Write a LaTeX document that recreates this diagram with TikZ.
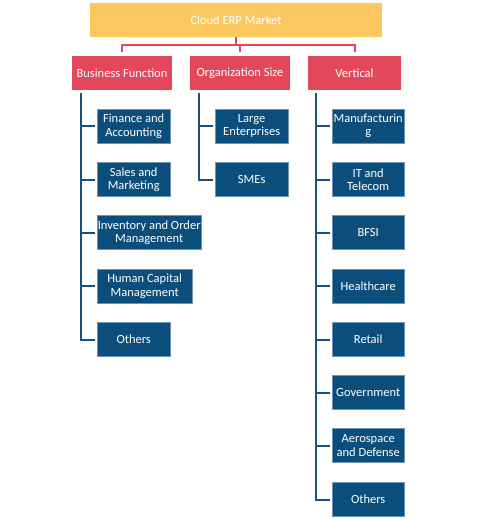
\documentclass[tikz,border=0pt]{standalone}
\usepackage{fontspec}
\setmainfont{Carlito}
\definecolor{topy}{HTML}{FCC75E}
\definecolor{catred}{HTML}{E2475A}
\definecolor{boxblue}{HTML}{0C4E7B}
\definecolor{lineblue}{HTML}{1B4F7F}
\begin{document}
\begin{tikzpicture}[x=1pt,y=-1pt,
  every node/.style={font=\fontsize{12.5}{13.5}\selectfont,text=white,inner sep=0pt,align=center},
  rootbox/.style={fill=topy,minimum width=292pt,minimum height=34pt},
  catbox/.style={fill=catred,minimum height=34pt},
  leaf/.style={fill=boxblue,draw=boxblue!60!white,line width=0.4pt,minimum height=34pt,anchor=west},
  redline/.style={draw=catred,line width=2pt},
  blueline/.style={draw=lineblue,line width=2pt}]
\useasboundingbox[fill=white] (0,0) rectangle (484,519);
\node[rootbox] (root) at (236,20) {Cloud ERP Market};
\node[catbox,minimum width=100pt] (bf) at (122,73) {Business Function};
\node[catbox,minimum width=100pt] (os) at (240,73) {Organization Size};
\node[catbox,minimum width=93pt] (vt) at (354.5,73) {Vertical};
% red connectors
\coordinate (bar) at (236,45);
\draw[redline] (root.south) -- (bar);
\draw[redline] ([yshift=3.5pt]bf.north) |- (bar) -| ([yshift=3.5pt]vt.north);
\draw[redline] ([yshift=3.5pt]os.north) -- (os.north |- bar);
% business function leaves
\node[leaf,minimum width=73pt] (bf1) at (97,126) {Finance and\\Accounting};
\node[leaf,minimum width=73pt] (bf2) at (97,179.5) {Sales and\\Marketing};
\node[leaf,minimum width=104pt] (bf3) at (97,232.5) {Inventory and Order\\Management};
\node[leaf,minimum width=95pt] (bf4) at (97,286) {Human Capital\\Management};
\node[leaf,minimum width=73pt] (bf5) at (97,339.5) {Others};
\coordinate (bft) at (81,93);
\draw[blueline] (bft) |- ([xshift=-2pt]bf5.west);
\foreach \n in {bf1,bf2,bf3,bf4} \draw[blueline] ([xshift=-2pt]\n.west) -- (\n.west -| bft);
% organization size leaves
\node[leaf,minimum width=73pt] (os1) at (215,126) {Large\\Enterprises};
\node[leaf,minimum width=73pt] (os2) at (215,179.5) {SMEs};
\coordinate (ost) at (199,93);
\draw[blueline] (ost) |- ([xshift=-2pt]os2.west);
\draw[blueline] ([xshift=-2pt]os1.west) -- (os1.west -| ost);
% vertical leaves
\node[leaf,minimum width=72pt] (v1) at (332,126) {Manufacturin\\g};
\node[leaf,minimum width=72pt] (v2) at (332,179.5) {IT and\\Telecom};
\node[leaf,minimum width=72pt] (v3) at (332,232.5) {BFSI};
\node[leaf,minimum width=72pt] (v4) at (332,286) {Healthcare};
\node[leaf,minimum width=72pt] (v5) at (332,339.5) {Retail};
\node[leaf,minimum width=72pt] (v6) at (332,392.5) {Government};
\node[leaf,minimum width=72pt] (v7) at (332,445.5) {Aerospace\\and Defense};
\node[leaf,minimum width=72pt] (v8) at (332,499.5) {Others};
\coordinate (vtt) at (316,93);
\draw[blueline] (vtt) |- ([xshift=-2pt]v8.west);
\foreach \n in {v1,v2,v3,v4,v5,v6,v7} \draw[blueline] ([xshift=-2pt]\n.west) -- (\n.west -| vtt);
\end{tikzpicture}
\end{document}
